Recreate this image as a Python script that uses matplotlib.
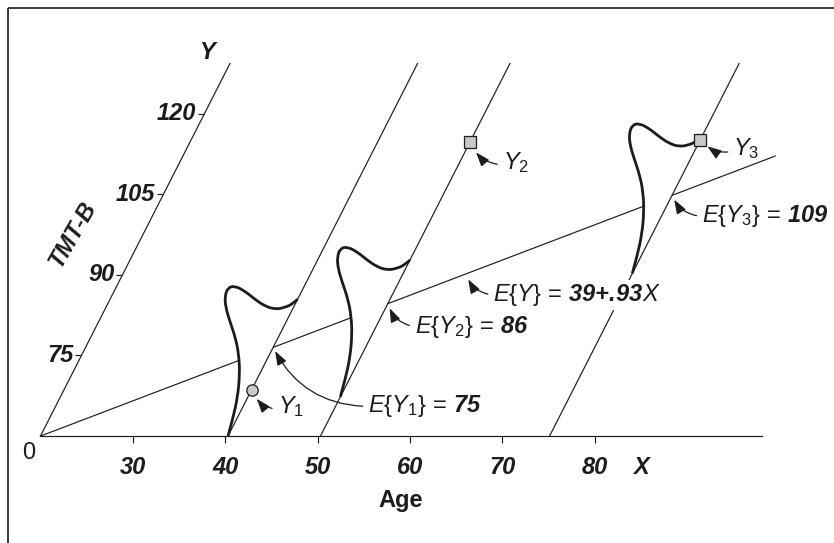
import numpy as np
import matplotlib
matplotlib.use('Agg')
import matplotlib.pyplot as plt
import matplotlib.markers as mk
from matplotlib.path import Path
from matplotlib.patches import PathPatch
from matplotlib.transforms import Affine2D

plt.rcParams['font.family'] = 'Liberation Sans'
plt.rcParams['mathtext.fontset'] = 'custom'
plt.rcParams['mathtext.rm'] = 'Liberation Sans'
plt.rcParams['mathtext.it'] = 'Liberation Sans:italic'
plt.rcParams['mathtext.bf'] = 'Liberation Sans:bold'
plt.rcParams['mathtext.bfit'] = 'Liberation Sans:italic:bold'

# axis values (oblique axes: X horizontal, Y slanted)
x_ticks = [30, 40, 50, 60, 70, 80]
y_ticks = [75, 90, 105, 120]
x_min, x_max = 20, 98.1
y_min, y_top = 60, 129.4

# regression line as drawn
reg_b0 = 43.7
reg_b1 = 0.814
reg_x_end = 84.1

# the three X levels, where each density starts, observed Y
line_x = [40.3, 50.3, 75.1]
curve_base = [60.0, 67.3, 90.3]
obs_y = [68.6, 114.7, 115.2]
obs_marker = ['o', 's', 's']

# skewed density shape: rise along Y above its base, offset in X units left of the line
shape_rise = [0, 3.43, 7.15, 11.5, 15.22, 18.33, 21.43, 23.92, 26.09, 27.65,
              27.95, 27.02, 25.47, 24.22, 23.61, 23.92, 24.67, 25.5]
shape_left = [0, -0.47, -1.09, -2.13, -3.34, -4.62, -6.15, -7.32, -8.06, -8.17,
              -7.53, -6.18, -4.63, -3.18, -1.92, -0.93, -0.25, 0]

ink = '#1c1c1c'
thin = 0.85
fs = 17

fig = plt.figure(figsize=(8.34, 5.43), dpi=100)
ax = fig.add_axes([0, 0, 1, 1])
ax.set_xlim(0, 834)
ax.set_ylim(543, 0)
ax.axis('off')

# frame (cut by the image edge)
ax.plot([8, 834], [8, 8], color='#3a3a3a', lw=1.4, solid_capstyle='butt')
ax.plot([8, 8], [8, 543], color='#3a3a3a', lw=1.4, solid_capstyle='butt')

obl = Affine2D.from_values(9.24, 0, 2.73, -5.367, -308.1, 758.0) + ax.transData

# axes
ax.plot([x_min, x_max], [y_min, y_min], transform=obl, color=ink, lw=thin)
ax.plot([x_min, x_min], [y_min, y_top], transform=obl, color=ink, lw=thin)
ax.plot(x_ticks, [y_min] * len(x_ticks), transform=obl, ls='none',
        marker=mk.TICKDOWN, ms=5, mew=thin, color=ink)
ax.plot([x_min] * len(y_ticks), y_ticks, transform=obl, ls='none',
        marker=mk.TICKLEFT, ms=4.3, mew=thin, color=ink)

for t in x_ticks:
    ax.annotate(str(t), xy=(t, y_min), xycoords=obl, xytext=(0, -32),
                textcoords='offset pixels', ha='center', va='center',
                fontsize=fs, fontweight='bold', fontstyle='italic', color=ink)
for t in y_ticks:
    ax.annotate(str(t), xy=(x_min, t), xycoords=obl, xytext=(-8, 0),
                textcoords='offset pixels', ha='right', va='center',
                fontsize=fs, fontweight='bold', fontstyle='italic', color=ink)

ax.annotate('0', xy=(x_min, y_min), xycoords=obl, xytext=(-12, -17),
            textcoords='offset pixels', ha='center', va='center', fontsize=fs, color=ink)
ax.annotate('X', xy=(85, y_min), xycoords=obl, xytext=(0, -32),
            textcoords='offset pixels', ha='center', va='center',
            fontsize=fs, fontweight='bold', fontstyle='italic', color=ink)
ax.annotate('Age', xy=(59, y_min), xycoords=obl, xytext=(0, -65),
            textcoords='offset pixels', ha='center', va='center',
            fontsize=fs, fontweight='bold', color=ink)
ax.annotate('Y', xy=(x_min, y_top), xycoords=obl, xytext=(-23, 11),
            textcoords='offset pixels', ha='center', va='center',
            fontsize=fs, fontweight='bold', fontstyle='italic', color=ink)
ax.annotate('TMT-B', xy=(x_min, 97.5), xycoords=obl, xytext=(-70, 0),
            textcoords='offset pixels', ha='center', va='center', rotation=60,
            fontsize=fs, fontweight='bold', fontstyle='italic', color=ink)

# regression line
rx = np.array([x_min, reg_x_end])
ax.plot(rx, reg_b0 + reg_b1 * rx, transform=obl, color=ink, lw=thin, zorder=1)

# slanted lines at each X
for xv in line_x:
    ax.plot([xv, xv], [y_min, y_top], transform=obl, color=ink, lw=thin, zorder=3)


def density_path(x0, y0, closed):
    pts = np.column_stack([x0 + np.array(shape_left), y0 + np.array(shape_rise)])
    n = len(pts)
    verts = [pts[0]]
    codes = [Path.MOVETO]
    for i in range(1, n - 1):
        end = (pts[i] + pts[i + 1]) / 2 if i < n - 2 else pts[i + 1]
        verts += [pts[i], end]
        codes += [Path.CURVE3, Path.CURVE3]
    if closed:
        verts += [pts[0], pts[0]]
        codes += [Path.LINETO, Path.CLOSEPOLY]
    return Path(verts, codes)


for xv, yb in zip(line_x, curve_base):
    ax.add_patch(PathPatch(density_path(xv, yb, True), transform=obl,
                           facecolor='white', edgecolor='none', zorder=2))
    ax.add_patch(PathPatch(density_path(xv, yb, False), transform=obl,
                           facecolor='none', edgecolor=ink, lw=2.0, zorder=4))

for xv, yv, m in zip(line_x, obs_y, obs_marker):
    ax.plot([xv], [yv], transform=obl, marker=m, ms=8.2, mfc='#c8c8c8',
            mec=ink, mew=0.9, zorder=5)


def label(txt, xy, off, shrink, relpos=(0, 0.5), box=False):
    kw = {}
    if box:
        kw['bbox'] = dict(facecolor='white', edgecolor='none', pad=1.5)
    ax.annotate(txt, xy=xy, xycoords=obl, xytext=off, textcoords='offset pixels',
                ha='left', va='center', fontsize=fs, color=ink, zorder=6,
                arrowprops=dict(arrowstyle='-|>,head_length=0.5,head_width=0.18',
                                connectionstyle='arc3,rad=-0.3', color=ink, lw=0.9,
                                shrinkA=2, shrinkB=shrink, relpos=relpos), **kw)


e_vals = [reg_b0 + reg_b1 * xv for xv in line_x]
label(r'$\mathit{E}\{\mathit{Y}_1\}\,=\,\mathbfit{75}$', (line_x[0], e_vals[0]), (95, -59), 3)
label(r'$\mathit{E}\{\mathit{Y}_2\}\,=\,\mathbfit{86}$', (line_x[1], e_vals[1]), (27, -23), 3.5)
label(r'$\mathit{E}\{\mathit{Y}_3\}\,=\,\mathbfit{109}$', (line_x[2], e_vals[2]), (30, -21), 3.5)
label(r'$\mathit{E}\{\mathit{Y}\}\,=\,\mathbfit{39{+}.}\!\mathbfit{93}\mathit{X}$',
      (57.1, reg_b0 + reg_b1 * 57.1), (27, -21), 4.3, box=True)
label(r'$\mathit{Y}_1$', (line_x[0], obs_y[0]), (26, -17), 7.5, relpos=(0, 0.4))
label(r'$\mathit{Y}_2$', (line_x[1], obs_y[1]), (33, -20), 8.5, relpos=(0, 0.4))
label(r'$\mathit{Y}_3$', (line_x[2], obs_y[2]), (33, -9), 7, relpos=(0, 0.4))

fig.savefig('out.png', dpi=100)
